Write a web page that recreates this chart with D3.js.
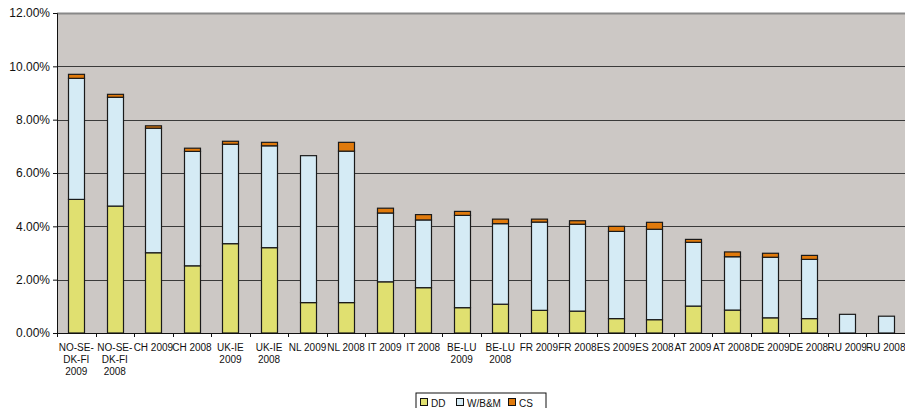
<!DOCTYPE html>
<html>
<head>
<meta charset="utf-8">
<script src="https://cdn.jsdelivr.net/npm/d3@7"></script>
<style>
  body { margin: 0; background: #fff; }
  svg { display: block; font-family: "Liberation Sans", Arial, sans-serif; }
</style>
</head>
<body>
<svg id="chart" width="905" height="408"></svg>
<script>
// categories (line breaks as in the original axis labels)
const categories = [
    "NO-SE-|DK-FI|2009", "NO-SE-|DK-FI|2008", "CH 2009", "CH 2008", "UK-IE|2009", "UK-IE|2008",
    "NL 2009", "NL 2008", "IT 2009", "IT 2008", "BE-LU|2009", "BE-LU|2008",
    "FR 2009", "FR 2008", "ES 2009", "ES 2008", "AT 2009", "AT 2008",
    "DE 2009", "DE 2008", "RU 2009", "RU 2008"
]

// values in percent
const dd = [5.01, 4.76, 3.01, 2.52, 3.35, 3.20, 1.14, 1.14, 1.92, 1.70, 0.95, 1.08,
    0.85, 0.82, 0.54, 0.50, 1.01, 0.86, 0.57, 0.54, 0, 0]
const wbm = [4.54, 4.08, 4.67, 4.29, 3.73, 3.82, 5.51, 5.68, 2.58, 2.54, 3.46, 3.02,
    3.31, 3.26, 3.27, 3.39, 2.39, 2.00, 2.27, 2.22, 0.70, 0.63]
const cs = [0.15, 0.11, 0.09, 0.12, 0.11, 0.13, 0, 0.33, 0.18, 0.20, 0.15, 0.17,
    0.11, 0.13, 0.19, 0.26, 0.11, 0.18, 0.15, 0.15, 0, 0]

const seriesNames = ["DD", "W/B&M", "CS"]
const colors = ["#e0e070", "#d5ebf5", "#e07a0c"]
const yTicks = [0, 2, 4, 6, 8, 10, 12]

const rows = categories.map((c, i) => ({ cat: c, DD: dd[i], "W/B&M": wbm[i], CS: cs[i] }))
const stacked = d3.stack().keys(seriesNames)(rows)

const margin = { top: 13, right: 0, bottom: 75, left: 57 }
const width = 905 - margin.left - margin.right
const height = 408 - margin.top - margin.bottom

const svg = d3.select("#chart")
const g = svg.append("g").attr("transform", `translate(${margin.left},${margin.top})`)

const pIn = 0.585
const x = d3.scaleBand()
    .domain(categories)
    .range([0, width])
    .paddingInner(pIn)
    .paddingOuter(pIn / 2)

const y = d3.scaleLinear()
    .domain([0, 12])
    .range([height, 0])

// plot area
g.append("rect")
    .attr("width", width)
    .attr("height", height)
    .attr("fill", "#ccc8c5")

// gridlines
g.append("g")
    .selectAll("line")
    .data(yTicks.filter(d => d > 0))
    .join("line")
    .attr("x1", 0)
    .attr("x2", width)
    .attr("y1", d => Math.round(y(d)) + 0.5)
    .attr("y2", d => Math.round(y(d)) + 0.5)
    .attr("stroke", d => d === 12 ? "#888" : "#3a3a3a")
    .attr("stroke-width", d => d === 12 ? 2 : 1)

// bars
g.append("g")
    .selectAll("g")
    .data(stacked)
    .join("g")
    .attr("fill", (d, i) => colors[i])
    .selectAll("rect")
    .data(d => d.filter(p => p[1] - p[0] > 0))
    .join("rect")
    .attr("x", d => Math.round(x(d.data.cat)) + 0.5)
    .attr("y", d => y(d[1]))
    .attr("width", x.bandwidth())
    .attr("height", d => y(d[0]) - y(d[1]))
    .attr("stroke", "#1a1a1a")
    .attr("stroke-width", 1.2)

// y axis
const yAxis = g.append("g")
    .call(d3.axisLeft(y).tickValues(yTicks).tickSize(4).tickPadding(3)
        .tickFormat(d => d3.format(".2f")(d) + "%"))
yAxis.select(".domain").attr("stroke", "#111")
yAxis.selectAll(".tick line").attr("stroke", "#111")
yAxis.selectAll("text").style("font-size", "12px").attr("fill", "#111")

// x axis line and ticks between categories
g.append("line")
    .attr("x1", 0).attr("x2", width)
    .attr("y1", height + 0.5).attr("y2", height + 0.5)
    .attr("stroke", "#111")

g.append("g")
    .selectAll("line")
    .data(categories)
    .join("line")
    .attr("x1", d => Math.round(x(d) - x.step() * pIn / 2) + 0.5)
    .attr("x2", d => Math.round(x(d) - x.step() * pIn / 2) + 0.5)
    .attr("y1", height)
    .attr("y2", height + 4)
    .attr("stroke", "#111")

const xLabels = g.append("g")
    .selectAll("text")
    .data(categories)
    .join("text")
    .attr("x", d => x(d) + x.bandwidth() / 2)
    .attr("y", height + 17.5)
    .attr("text-anchor", "middle")
    .style("font-size", "10px")
    .attr("fill", "#111")

xLabels.selectAll("tspan")
    .data(d => d.split("|").map(t => ({ t, cx: x(d) + x.bandwidth() / 2 })))
    .join("tspan")
    .attr("x", d => d.cx)
    .attr("dy", (d, i) => i === 0 ? 0 : 12.2)
    .text(d => d.t)

// legend
const legend = svg.append("g").attr("transform", "translate(416,393)")
legend.append("rect")
    .attr("width", 130)
    .attr("height", 20)
    .attr("fill", "#fff")
    .attr("stroke", "#111")

const legendX = [4, 40, 92]
const item = legend.selectAll("g")
    .data(seriesNames)
    .join("g")
    .attr("transform", (d, i) => `translate(${legendX[i]},4)`)

item.append("rect")
    .attr("x", 0.5)
    .attr("y", 1.5)
    .attr("width", 7)
    .attr("height", 7)
    .attr("fill", (d, i) => colors[i])
    .attr("stroke", "#111")

item.append("text")
    .attr("x", 11)
    .attr("y", 9.5)
    .style("font-size", "10px")
    .attr("fill", "#111")
    .text(d => d)
</script>
</body>
</html>
